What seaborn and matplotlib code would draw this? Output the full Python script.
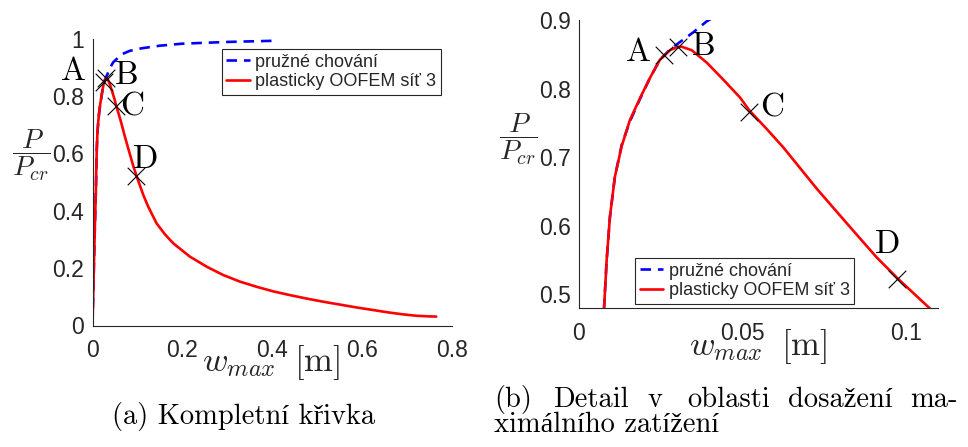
import numpy as np
import pandas as pd
import matplotlib
matplotlib.use("Agg")
import matplotlib.pyplot as plt
import seaborn as sns

# ---------------- data ----------------
elastic_w = [0.0, 0.0015, 0.0033, 0.0055, 0.0077, 0.0085, 0.0095, 0.011, 0.0131,
             0.0156, 0.0187, 0.0218, 0.0248, 0.0279, 0.0304, 0.035, 0.0391, 0.046,
             0.065, 0.083, 0.11, 0.15, 0.2, 0.25, 0.3, 0.35, 0.404]
elastic_p = [0.0, 0.10, 0.22, 0.36, 0.48, 0.55, 0.613, 0.671, 0.718,
             0.752, 0.785, 0.816, 0.842, 0.857, 0.866, 0.882, 0.898, 0.917,
             0.945, 0.957, 0.966, 0.975, 0.982, 0.985, 0.988, 0.990, 0.992]

plastic_w = [0.0004, 0.0015, 0.0033, 0.0055, 0.0077, 0.0085, 0.0095, 0.011, 0.0131,
             0.0156, 0.0187, 0.0218, 0.0248, 0.0279, 0.0304, 0.0315, 0.0345, 0.0391,
             0.0442, 0.0493, 0.0522, 0.0575, 0.0626, 0.0728, 0.083, 0.0911, 0.0978,
             0.1075, 0.113, 0.124, 0.1426, 0.161, 0.18, 0.2167, 0.254, 0.2907, 0.328,
             0.365, 0.402, 0.439, 0.476, 0.513, 0.55, 0.587, 0.624, 0.661, 0.69,
             0.72, 0.745, 0.765]
plastic_p = [0.03, 0.10, 0.22, 0.36, 0.48, 0.55, 0.613, 0.671, 0.716,
             0.754, 0.786, 0.816, 0.842, 0.856, 0.861, 0.861, 0.856, 0.838,
             0.813, 0.787, 0.768, 0.741, 0.714, 0.654, 0.598, 0.554, 0.522,
             0.479, 0.455, 0.414, 0.356, 0.318, 0.286, 0.24, 0.205, 0.176, 0.153,
             0.135, 0.119, 0.106, 0.094, 0.083, 0.073, 0.063, 0.054, 0.045, 0.039,
             0.034, 0.032, 0.031]

mark_w = [0.0259, 0.0304, 0.0522, 0.0975]
mark_p = [0.849, 0.861, 0.766, 0.522]
mark_labels = ["A", "B", "C", "D"]

series_names = ["pružné chování", "plasticky OOFEM síť 3"]
left_xticks = [0, 0.2, 0.4, 0.6, 0.8]
left_yticks = [0, 0.2, 0.4, 0.6, 0.8, 1]
right_xticks = [0, 0.05, 0.1]
right_yticks = [0.5, 0.6, 0.7, 0.8, 0.9]
caption_a = "(a) Kompletní křivka"
caption_b_line1 = ["(b)", "Detail", "v", "oblasti", "dosažení", "ma-"]
caption_b_line2 = "ximálního zatížení"

# ---------------- style ----------------
sns.set_style("white")
plt.rcParams["font.family"] = ["Liberation Sans", "DejaVu Sans"]
plt.rcParams["mathtext.fontset"] = "cm"
DARK = "#262626"
SERIF = ["cmr10", "Liberation Serif", "DejaVu Serif"]

df = pd.concat([
    pd.DataFrame({"w": elastic_w, "p": elastic_p, "s": series_names[0]}),
    pd.DataFrame({"w": plastic_w, "p": plastic_p, "s": series_names[1]}),
], ignore_index=True)
marks = pd.DataFrame({"w": mark_w, "p": mark_p, "lab": mark_labels})

W, H = 968, 447
fig = plt.figure(figsize=(W / 100, H / 100), dpi=100)
ax1 = fig.add_axes([92.5 / W, 1 - 325.5 / H, 359.5 / W, 287 / H])
ax2 = fig.add_axes([578.9 / W, 1 - 308 / H, 359.4 / W, 288 / H])

palette = {series_names[0]: "#0000ff", series_names[1]: "#ff0000"}

for ax in (ax1, ax2):
    sns.lineplot(data=df, x="w", y="p", hue="s", style="s", palette=palette,
                 dashes={series_names[0]: (4, 2.6), series_names[1]: ""},
                 sort=False, estimator=None, lw=1.9, ax=ax, legend=True)
    sns.scatterplot(data=marks, x="w", y="p", marker="x", s=160, color="black",
                    linewidth=0.8, ax=ax, legend=False, zorder=5)
    sns.despine(ax=ax)
    for sp in ("left", "bottom"):
        ax.spines[sp].set_color(DARK)
        ax.spines[sp].set_linewidth(0.8)
    ax.tick_params(direction="in", length=4, width=0.8, color=DARK,
                   labelcolor=DARK, labelsize=16.5)
    ax.tick_params(axis="x", pad=10)
    ax.tick_params(axis="y", pad=6)
    ax.set_xlabel("")
    ax.set_ylabel("")
    ax.set_facecolor("white")

ax1.set_xlim(0, 0.8)
ax1.set_ylim(0, 1)
ax1.set_xticks(left_xticks)
ax1.set_xticklabels(["0", "0.2", "0.4", "0.6", "0.8"])
ax1.set_yticks(left_yticks)
ax1.set_yticklabels(["0", "0.2", "0.4", "0.6", "0.8", "1"])

ax2.set_xlim(0, 0.11)
ax2.set_ylim(0.48, 0.9)
ax2.set_xticks(right_xticks)
ax2.set_xticklabels(["0", "0.05", "0.1"])
ax2.set_yticks(right_yticks)
ax2.set_yticklabels(["0.5", "0.6", "0.7", "0.8", "0.9"])

# point labels (layout positions)
left_pos = {"A": (-0.043, 0.885), "B": (0.077, 0.872), "C": (0.088, 0.763), "D": (0.118, 0.578)}
right_pos = {"A": (0.0182, 0.852), "B": (0.0383, 0.862), "C": (0.0592, 0.772), "D": (0.0944, 0.572)}
for ax, pos in ((ax1, left_pos), (ax2, right_pos)):
    for lab in mark_labels:
        ax.text(*pos[lab], lab, family=SERIF, fontsize=24, ha="center",
                va="center", color="black", clip_on=False, zorder=6)

# legends
leg_kw = dict(frameon=True, fancybox=False, framealpha=1, edgecolor=DARK,
              fontsize=13, handlelength=1.3, handletextpad=0.3, borderpad=0.25,
              labelspacing=0.15, borderaxespad=0)
h, l = ax1.get_legend_handles_labels()
ax1.legend(h[:2], l[:2], loc="upper right", bbox_to_anchor=(0.969, 0.963), **leg_kw)
h, l = ax2.get_legend_handles_labels()
ax2.legend(h[:2], l[:2], loc="lower left", bbox_to_anchor=(0.157, 0.014), **leg_kw)
for ax in (ax1, ax2):
    ax.get_legend().get_frame().set_linewidth(0.8)

# axis labels
ylab = r"$\dfrac{P}{P_{cr}}$"
fig.text(31 / W, 1 - 155 / H, ylab, fontsize=20, ha="center", va="center", color=DARK)
fig.text(518 / W, 1 - 139 / H, ylab, fontsize=20, ha="center", va="center", color=DARK)
xlab = r"$w_{max}\;\;[\mathrm{m}]$"
fig.text(271 / W, 1 - 363 / H, xlab, fontsize=25, ha="center", va="center", color=DARK)
fig.text(758 / W, 1 - 347 / H, xlab, fontsize=25, ha="center", va="center", color=DARK)

# captions
fig.text(244 / W, 1 - 424 / H, caption_a, family=SERIF, fontsize=20.5,
         ha="center", va="baseline", color="black")
b_x = [494, 553, 648, 687, 788, 910]
for word, x in zip(caption_b_line1, b_x):
    fig.text(x / W, 1 - 407 / H, word, family=SERIF, fontsize=20.5,
             ha="left", va="baseline", color="black")
fig.text(494 / W, 1 - 432 / H, caption_b_line2, family=SERIF, fontsize=20.5,
         ha="left", va="baseline", color="black")

fig.savefig("out.png", dpi=100, facecolor="white")
